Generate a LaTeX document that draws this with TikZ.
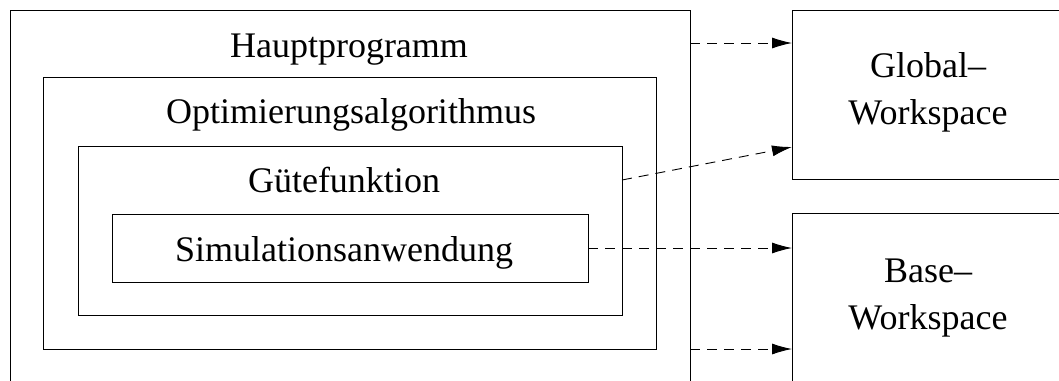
\documentclass[tikz,border=0pt]{standalone}
\usepackage{fontspec}
\setmainfont{Liberation Serif}
\usetikzlibrary{arrows.meta}

\begin{document}
\begin{tikzpicture}[
            x=1pt, y=-1pt,
            box/.style={draw, line width=0.9pt, inner sep=0pt, outer sep=0pt},
            label/.style={font=\fontsize{36}{47}\selectfont, align=center, anchor=base, inner sep=0pt},
            arrow/.style={-{Latex[length=20pt,width=11pt]}, line width=0.9pt, dash pattern=on 10pt off 7pt}
        ]
            \useasboundingbox (0,0) rectangle (1059,380);

            % Nested program boxes
            \node[box, minimum width=680, minimum height=400] (haupt) at (350,210) {};
            \node[box, minimum width=613, minimum height=272] (opt) at (349.5,213) {};
            \node[box, minimum width=544, minimum height=169] (guete) at (350,230.5) {};
            \node[box, minimum width=476, minimum height=68] (sim) at (350,248) {};

            \node[label] (hauptlabel) at (349,57) {Hauptprogramm};
            \node[label] (optlabel) at (351,123) {Optimierungsalgorithmus};
            \node[label] (guetelabel) at (344,192) {Gütefunktion};
            \node[label] (simlabel) at (344,261) {Simulationsanwendung};

            % Workspaces
            \node[box, minimum width=273, minimum height=169] (global) at (928.5,94.5) {};
            \node[box, minimum width=273, minimum height=207] (base) at (928.5,316.5) {};

            \node[label] (globallabel) at (928,124) {Global--\\Workspace};
            \node[label] (baselabel) at (928,329) {Base--\\Workspace};

            % Accesses
            \coordinate (gin) at (792,147);
            \draw[arrow] (haupt.east |- 0,43) -- (global.west |- 0,43);
            \draw[arrow] (guete.east |- 0,180) -- (gin);
            \draw[arrow] (sim.east) -- (sim.east -| base.west);
            \draw[arrow] (opt.south -| haupt.east) -- (opt.south -| base.west);
        \end{tikzpicture}
\end{document}
